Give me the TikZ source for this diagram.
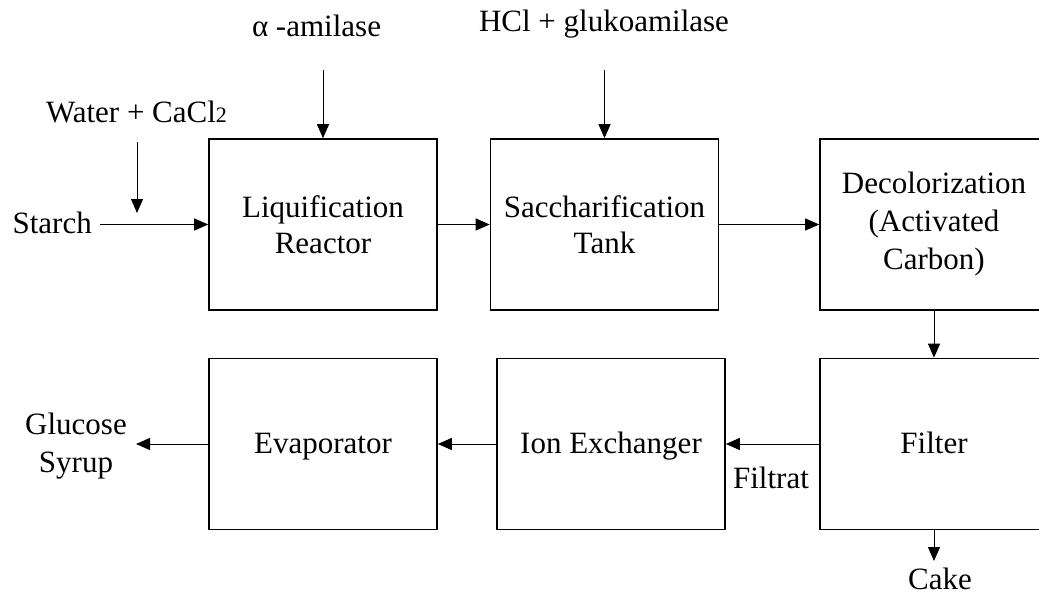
\documentclass[tikz,border=0pt]{standalone}
\usepackage{fontspec}
\setmainfont{Liberation Serif}
\usetikzlibrary{arrows.meta}
\begin{document}
\begin{tikzpicture}[x=1pt,y=-1pt,
  box/.style={draw, line width=1.6pt, minimum width=228pt, minimum height=171pt, inner sep=0pt, align=center, font=\fontsize{31}{36}\selectfont},
  onebox/.style={box, text height=22pt, text depth=4pt},
  lbl/.style={font=\fontsize{31}{36}\selectfont, inner sep=0pt, align=center},
  flow/.style={line width=1pt, -{Triangle[length=14pt,width=12pt]}}]
\useasboundingbox (0,0) rectangle (1039,594);
\clip (0,0) rectangle (1039,594);
\fill[white] (0,0) rectangle (1039,594);
% boxes
\node[box] (liq) at (323,224.5) {Liquification\\Reactor};
\node[box] (sac) at (604.5,224.5) {Saccharification\\Tank};
\node[box, font=\fontsize{31}{38}\selectfont] (dec) at (934,224.5) {Decolorization\\(Activated\\Carbon)};
\node[onebox] (fil) at (934,444) {Filter};
\node[onebox] (ion) at (611,444) {Ion Exchanger};
\node[onebox] (eva) at (323,444) {Evaporator};
% labels
\node[lbl, anchor=base east] (starch) at (92,233) {Starch};
\node[lbl, anchor=base] (water) at (136.5,122) {Water + CaCl{\fontsize{22}{22}\selectfont 2}};
\node[lbl, anchor=base] (alpha) at (316.5,37) {α -amilase};
\node[lbl, anchor=base] (hcl) at (604,32) {HCl + glukoamilase};
\node[lbl, anchor=base] (filtrat) at (771,488) {Filtrat};
\node[lbl, font=\fontsize{31}{38}\selectfont] (glu) at (76,446) {Glucose\\Syrup};
\node[lbl, anchor=base] (cake) at (940,589) {Cake};
% free ends
\coordinate (w0) at (137,142);
\coordinate (w1) at (137,213);
\coordinate (a0) at (323,70);
\coordinate (h0) at (604.5,70);
\coordinate (g0) at (136,444);
\coordinate (c0) at (934,561);
% connectors
\draw[flow] ([xshift=8pt]starch.east |- liq.west) -- (liq.west);
\draw[flow] (w0) -- (w1);
\draw[flow] (a0) -- (liq.north);
\draw[flow] (h0) -- (sac.north);
\draw[flow] (liq.east) -- (sac.west);
\draw[flow] (sac.east) -- (dec.west);
\draw[flow] (dec.south) -- (fil.north);
\draw[flow] (fil.west) -- (ion.east);
\draw[flow] (ion.west) -- (eva.east);
\draw[flow] (eva.west) -- (g0);
\draw[flow] (fil.south) -- (c0);
\end{tikzpicture}
\end{document}
